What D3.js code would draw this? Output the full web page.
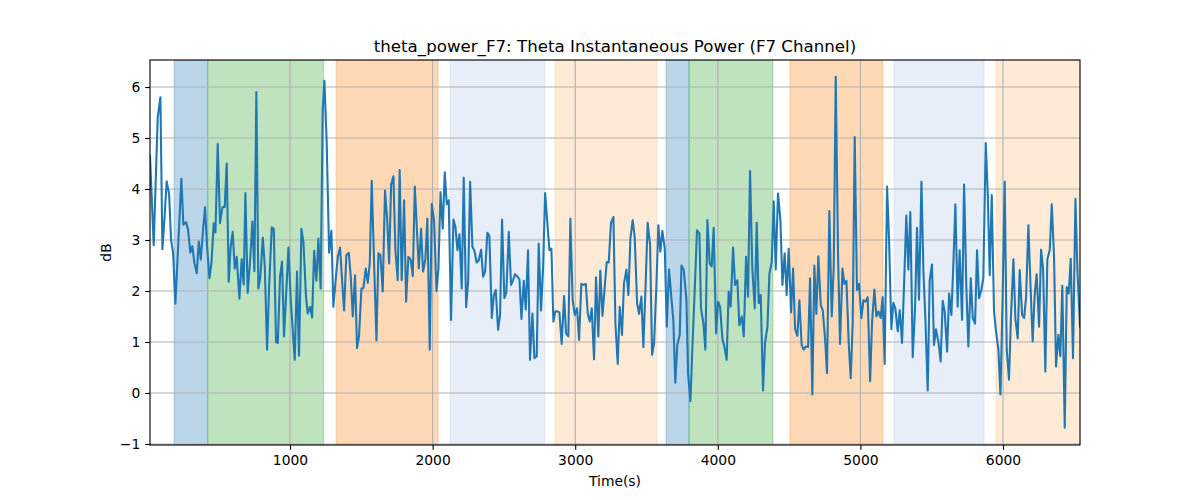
<!DOCTYPE html>
<html>
<head>
<meta charset="utf-8">
<script src="https://cdn.jsdelivr.net/npm/d3@7"></script>
<style>
  body { margin: 0; background: #fff; }
  text { font-family: "DejaVu Sans", sans-serif; fill: #000; }
</style>
</head>
<body>
<svg id="chart" width="1200" height="500"></svg>
<script>
const chartTitle = "theta_power_F7: Theta Instantaneous Power (F7 Channel)";
const xLabel = "Time(s)";
const yLabel = "dB";
const xTicks = [1000, 2000, 3000, 4000, 5000, 6000];
const yTicks = [-1, 0, 1, 2, 3, 4, 5, 6];
const xDomain = [18, 6540];
const yDomain = [-1.02, 6.53];

const spanStarts = [187, 423, 1323, 2122, 2858, 3637, 3798, 4506, 5236, 5951];
const spanEnds   = [423, 1236, 2038, 2788, 3574, 3798, 4387, 5158, 5867, 6560];
const spanKinds  = ["blue", "green", "orange", "lightblue", "lightorange", "blue", "green", "orange", "lightblue", "lightorange"];

const times = [
18,44,72,91,105,119,135,152,166,180,196,238,252,271,285,301,315,329,346,360,374,390,404,418,435,449,465,477,493,509,526,542,556,570,584,598,612,626,645,661,675,687,703,722,736,750,764,778,792,809,823,839,853,872,886,902,914,930,944,
958,989,1005,1033,1049,1063,1080,1094,1112,1124,1141,1155,1169,1185,1199,1215,1229,1241,1257,1274,1290,1304,1321,1335,1351,1365,1379,1395,1412,1426,1440,1456,1470,1484,1501,1515,1531,1545,1559,1573,1589,1606,1620,1634,1650,1666,1681,1695,1709,1725,1739,1755,1769,1783,1800,1814,1830,1846,1861,1875,
1886,1903,1919,1933,1949,1963,1980,1994,2010,2027,2041,2055,2071,2085,2099,2113,2129,2146,2160,2174,2188,2204,2218,2235,2249,2263,2279,2293,2309,2323,2340,2354,2368,2384,2398,2415,2429,2443,2459,2473,2487,2503,2517,2534,2550,2564,2578,2592,2609,2623,2639,2653,2669,2683,2700,2714,2730,2744,2760,2775,2789,
2819,2833,2847,2861,2875,2889,2905,2922,2936,2952,2966,2982,2997,3013,3027,3043,3057,3074,3088,3102,3116,3132,3146,3162,3176,3191,3207,3221,3235,3251,3268,3282,3298,3312,3328,3342,3359,3373,3387,3403,3417,3434,3448,3464,3478,3494,3508,3525,3539,3553,3569,3583,3597,3611,3628,3642,3658,3672,3688,3702,3716,3733,3745,
3761,3780,3791,3808,3822,3838,3854,3871,3882,3899,3913,3927,3943,3957,3971,3988,4002,4016,4032,4048,4062,4076,4090,4107,4121,4137,4151,4168,4182,4198,4212,4226,4242,4259,4273,4287,4301,4317,4331,4348,4362,4378,4392,4406,4422,4439,4453,4469,4483,4497,4514,4528,4542,4558,4572,4588,4602,4616,4633,4647,4663,4677,
4691,4705,4722,4736,4752,4766,4782,4799,4813,4827,4843,4857,4874,4888,4902,4918,4932,4946,4960,4976,4990,5007,5021,5035,5051,5068,5082,5098,5112,5126,5142,5156,5170,5187,5201,5217,5231,5245,5262,5276,5292,5306,5322,5336,5350,5367,5383,5397,5411,5428,5442,5456,5472,5486,5502,5516,5530,5547,5563,5577,5591,5608,
5622,5638,5652,5666,5682,5696,5713,5727,5743,5757,5774,5788,5804,5818,5832,5848,5862,5879,5893,5907,5921,5937,5951,5968,5982,5998,6012,6026,6042,6056,6073,6087,6103,6117,6134,6148,6162,6178,6192,6208,6222,6236,6253,6267,6281,6297,6311,6328,6342,6358,6372,6388,6402,6416,6433,6447,6461,6475,6491,6508,6522,6540
];

const power = [
4.65,2.9,5.4,5.8,2.82,3.4,4.15,3.9,3.0,2.75,1.75,4.2,3.3,3.35,3.2,2.75,2.88,2.55,2.35,2.97,2.62,3.2,3.64,2.88,2.25,2.55,3.33,3.15,4.88,3.33,3.64,3.65,4.5,2.18,2.88,3.16,2.44,2.67,1.85,2.62,2.13,3.92,1.96,2.67,3.36,2.39,5.9,2.05,2.28,3.05,2.48,0.85,2.08,3.25,3.22,1.0,0.98,2.28,2.58,
1.11,2.85,1.82,0.65,2.38,0.73,3.22,2.96,1.89,1.56,1.69,1.48,2.79,2.2,3.03,2.05,5.54,6.12,4.92,2.75,3.18,1.69,2.25,2.67,2.85,2.21,1.62,2.7,2.75,2.28,1.5,2.31,0.88,1.12,2.05,2.06,2.44,2.16,2.54,4.16,2.6,1.03,2.74,2.7,1.99,3.97,3.42,2.54,4.09,4.25,2.8,2.21,4.37,2.21,3.78,1.79,2.67,2.62,2.29,4.05,
3.42,2.44,3.22,2.38,2.62,3.42,0.85,3.71,3.39,2.0,2.44,3.94,3.22,4.33,3.7,3.78,1.43,3.4,3.26,2.8,3.11,2.05,4.22,1.68,2.18,4.14,2.87,2.79,2.56,2.6,2.81,2.28,2.38,3.14,3.08,1.47,1.92,2.02,1.24,1.53,3.4,1.86,1.97,3.16,2.12,2.21,2.33,2.29,2.23,1.45,2.2,1.64,2.8,0.65,1.56,0.68,0.72,2.93,1.62,2.48,3.92,
2.8,2.83,1.4,1.6,1.6,1.58,0.96,1.9,1.17,1.11,3.42,1.82,1.53,1.66,1.04,2.14,2.12,2.14,1.56,1.4,1.66,0.66,2.27,1.11,2.4,1.51,2.08,2.57,2.56,3.34,3.45,1.37,0.57,1.69,1.14,2.15,2.42,1.92,3.03,3.39,3.06,1.76,1.55,1.89,0.9,2.15,3.34,2.9,0.75,0.98,2.08,3.29,2.77,3.18,2.83,1.3,2.42,1.95,1.43,0.2,0.94,1.14,2.5,
2.42,1.82,0.39,-0.16,0.91,2.02,3.19,3.13,1.66,1.37,0.85,3.39,2.54,2.48,3.24,1.17,1.79,1.69,1.07,0.88,0.65,1.99,1.69,2.85,2.12,2.21,1.33,1.5,1.11,2.67,1.89,4.35,2.44,1.66,3.34,1.76,1.92,0.05,0.98,1.3,2.34,2.57,3.76,2.42,3.91,3.39,2.12,2.74,1.92,2.83,1.58,2.44,1.25,1.12,1.82,0.94,0.85,0.91,0.9,2.25,-0.03,2.5,
1.55,2.68,1.72,1.62,1.07,0.39,3.57,1.5,2.48,6.2,2.74,0.96,2.44,2.14,2.2,0.98,0.29,1.37,5.02,2.02,2.14,1.47,1.82,1.79,1.88,0.23,1.4,2.03,1.5,1.6,1.47,1.88,0.57,4.05,3.0,1.25,1.77,1.66,1.21,1.62,0.98,2.12,3.48,2.42,3.55,0.7,1.66,3.24,1.83,4.14,2.38,1.43,0.05,2.21,2.52,0.94,1.25,1.0,0.62,1.81,1.6,0.81,
1.95,1.53,2.54,3.7,1.69,2.8,1.43,4.09,2.08,0.91,2.25,1.47,1.36,2.8,1.86,2.02,2.25,4.9,3.91,2.31,3.88,1.6,1.21,0.85,-0.03,1.95,4.14,0.85,0.26,1.5,2.62,1.45,1.07,2.41,1.53,1.47,1.88,3.29,2.18,1.01,1.92,2.33,1.3,2.81,2.44,0.42,2.62,2.81,3.7,2.67,0.52,1.14,0.72,2.1,-0.68,2.08,1.95,2.63,0.68,3.81,2.41,1.3
];

const spanColors = {
  blue: "rgba(31,119,180,0.3)",
  green: "rgba(44,160,44,0.3)",
  orange: "rgba(255,127,14,0.3)",
  lightblue: "rgba(174,199,232,0.3)",
  lightorange: "rgba(255,187,120,0.3)"
};

const pt = 100 / 72;
const svg = d3.select("#chart");
const m = { left: 150, right: 1080, top: 60, bottom: 445 };

const x = d3.scaleLinear().domain(xDomain).range([m.left, m.right]);
const y = d3.scaleLinear().domain(yDomain).range([m.bottom, m.top]);

svg.append("defs").append("clipPath").attr("id", "clip")
  .append("rect").attr("x", m.left).attr("y", m.top)
  .attr("width", m.right - m.left).attr("height", m.bottom - m.top);

const plot = svg.append("g").attr("clip-path", "url(#clip)");

// spans
plot.selectAll("rect.span").data(spanStarts.map((s, i) => ({ s, e: spanEnds[i], k: spanKinds[i] })))
  .enter().append("rect").attr("class", "span")
  .attr("x", d => x(d.s)).attr("width", d => x(d.e) - x(d.s))
  .attr("y", m.top).attr("height", m.bottom - m.top)
  .attr("fill", d => spanColors[d.k])
  .attr("stroke", d => spanColors[d.k]).attr("stroke-width", 1);

// grid
plot.selectAll("line.gx").data(xTicks).enter().append("line")
  .attr("x1", d => x(d)).attr("x2", d => x(d)).attr("y1", m.top).attr("y2", m.bottom)
  .attr("stroke", "#b0b0b0").attr("stroke-width", 0.8 * pt);
plot.selectAll("line.gy").data(yTicks).enter().append("line")
  .attr("y1", d => y(d)).attr("y2", d => y(d)).attr("x1", m.left).attr("x2", m.right)
  .attr("stroke", "#b0b0b0").attr("stroke-width", 0.8 * pt);

// line
const line = d3.line().x((d, i) => x(times[i])).y(d => y(d));
plot.append("path").datum(power).attr("d", line)
  .attr("fill", "none").attr("stroke", "#1f77b4").attr("stroke-width", 1.5 * pt)
  .attr("stroke-linejoin", "round").attr("stroke-linecap", "square");

// axes
const xAxis = d3.axisBottom(x).tickValues(xTicks).tickSize(3.5 * pt).tickPadding(3.5 * pt).tickFormat(d3.format("d"));
const gx = svg.append("g").attr("transform", `translate(0,${m.bottom})`).call(xAxis);
const yAxis = d3.axisLeft(y).tickValues(yTicks).tickSize(3.5 * pt).tickPadding(3.5 * pt).tickFormat(d => d < 0 ? "\u2212" + Math.abs(d) : d);
const gy = svg.append("g").attr("transform", `translate(${m.left},0)`).call(yAxis);
[gx, gy].forEach(g => {
  g.select(".domain").remove();
  g.selectAll(".tick line").attr("stroke", "#000").attr("stroke-width", 0.8 * pt);
  g.selectAll(".tick text").attr("font-size", (10 * pt) + "px").attr("font-family", "DejaVu Sans");
});

// frame
svg.append("rect").attr("x", m.left).attr("y", m.top)
  .attr("width", m.right - m.left).attr("height", m.bottom - m.top)
  .attr("fill", "none").attr("stroke", "#000").attr("stroke-width", 0.8 * pt);

// labels
svg.append("text").attr("x", (m.left + m.right) / 2).attr("y", 52)
  .attr("text-anchor", "middle").attr("font-size", (12 * pt) + "px").text(chartTitle);
svg.append("text").attr("x", (m.left + m.right) / 2).attr("y", 486)
  .attr("text-anchor", "middle").attr("font-size", (10 * pt) + "px").text(xLabel);
svg.append("text").attr("transform", `translate(111,${(m.top + m.bottom) / 2}) rotate(-90)`)
  .attr("text-anchor", "middle").attr("font-size", (10 * pt) + "px").text(yLabel);
</script>
</body>
</html>
